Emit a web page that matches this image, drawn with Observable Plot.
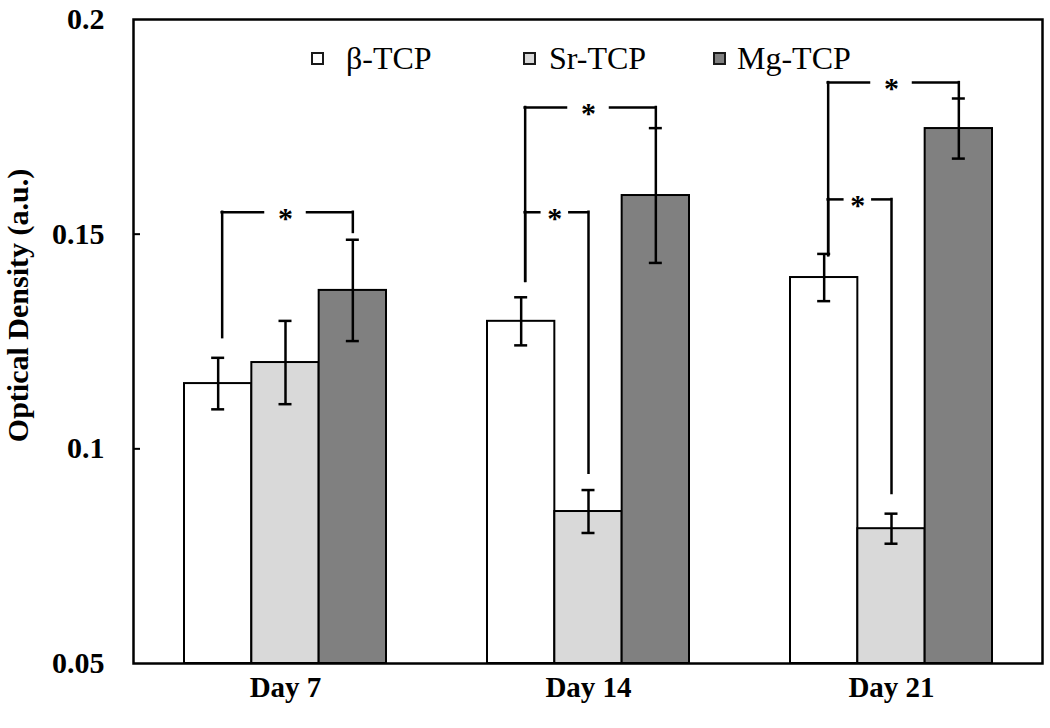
<!DOCTYPE html>
<html>
<head>
<meta charset="utf-8">
<script src="https://cdn.jsdelivr.net/npm/d3@7"></script>
<script src="https://cdn.jsdelivr.net/npm/@observablehq/plot@0.6"></script>
<style>
  body { margin: 0; background: #fff; }
  #wrap { position: relative; width: 1050px; height: 728px; font-family: "Liberation Serif", "Times New Roman", serif; }
  .sw { position: absolute; width: 9px; height: 9px; border: 2px solid #1a1a1a; }
  .lt { position: absolute; font-size: 32px; line-height: 32px; color: #000; white-space: nowrap; }
</style>
</head>
<body>
<div id="wrap"></div>
<script>
// ---- data ----
const days = ["Day 7", "Day 14", "Day 21"];
const series = ["β-TCP", "Sr-TCP", "Mg-TCP"];
const betaMean = [0.1152, 0.1297, 0.1399];
const betaErr  = [0.0060, 0.0056, 0.0055];
const srMean   = [0.1201, 0.0854, 0.0814];
const srErr    = [0.0097, 0.0050, 0.0035];
const mgMean   = [0.1369, 0.1590, 0.1746];
const mgErr    = [0.0118, 0.0157, 0.0070];
const fills    = ["#ffffff", "#d9d9d9", "#808080"];
const yTicks      = [0.05, 0.1, 0.15, 0.2];
const yTickLabels = ["0.05", "0.1", "0.15", "0.2"];
const yBase = 0.05;
// significance brackets: day, from series index, to series index, bar level, left foot, right foot
const bracketDay   = ["Day 7", "Day 14", "Day 14", "Day 21", "Day 21"];
const bracketFrom  = [0, 0, 0, 0, 0];
const bracketTo    = [2, 2, 1, 2, 1];
const bracketLevel = [0.1551, 0.1795, 0.1551, 0.1853, 0.1581];
const bracketYFrom = [0.1259, 0.1390, 0.1390, 0.1450, 0.1450];
const bracketYTo   = [0.1504, 0.1751, 0.0943, 0.1816, 0.0896];

const means = [betaMean, srMean, mgMean];
const errs = [betaErr, srErr, mgErr];
const rowsBySeries = series.map((s, i) => days.map((d, j) => ({
  day: d, series: s, value: means[i][j], lo: means[i][j] - errs[i][j], hi: means[i][j] + errs[i][j], base: yBase
})));
const brackets = bracketDay.map((d, k) => ({
  day: d, from: bracketFrom[k], to: bracketTo[k], level: bracketLevel[k], yFrom: bracketYFrom[k], yTo: bracketYTo[k]
}));

// ---- layout ----
const W = 1050, H = 728, mL = 133, mR = 8, mT = 19, mB = 65;
const innerW = W - mL - mR;
const step = innerW / 3, bw = step * 2 / 3, sub = bw / 3;
const off = i => sub * i + sub / 2;   // series centre offset from band start
const capHalf = 6.5;
const font = "Liberation Serif, Times New Roman, serif";

const marks = [];
rowsBySeries.forEach((rows, i) => {
  marks.push(Plot.barY(rows, {
    x: "day", y1: "base", y2: "value", fill: fills[i], stroke: "#000", strokeWidth: 2,
    insetLeft: i * sub, insetRight: (2 - i) * sub
  }));
});
rowsBySeries.forEach((rows, i) => {
  marks.push(Plot.ruleX(rows, {x: "day", y1: "lo", y2: "hi", dx: off(i) - bw / 2, stroke: "#000", strokeWidth: 2.5}));
  for (const key of ["lo", "hi"]) {
    marks.push(Plot.tickY(rows, {x: "day", y: key, stroke: "#000", strokeWidth: 2.5,
      insetLeft: off(i) - capHalf, insetRight: bw - off(i) - capHalf}));
  }
});
for (const b of brackets) {
  const x0 = off(b.from) + 4, x1 = off(b.to), mid = (off(b.from) + off(b.to)) / 2;
  const gh = b.to - b.from > 1 ? 22 : 15;
  const st = {stroke: "#000", strokeWidth: 2.5, strokeLinecap: "square"};
  marks.push(Plot.ruleX([b], {x: "day", y1: "yFrom", y2: "level", dx: x0 - bw / 2, ...st}));
  marks.push(Plot.ruleX([b], {x: "day", y1: "yTo", y2: "level", dx: x1 - bw / 2, ...st}));
  marks.push(Plot.ruleY([b], {x1: "day", x2: "day", y: "level", insetLeft: x0, insetRight: bw - (mid - gh), ...st}));
  marks.push(Plot.ruleY([b], {x1: "day", x2: "day", y: "level", insetLeft: mid + gh, insetRight: bw - x1, ...st}));
  marks.push(Plot.text([b], {x: "day", y: "level", text: () => "*", dx: mid - bw / 2, dy: 6,
    fontSize: 30, fontWeight: "bold", fontFamily: font, fill: "#000"}));
}
marks.push(Plot.ruleY([0.1, 0.15], {insetRight: innerW - 7, stroke: "#000", strokeWidth: 2}));
marks.push(Plot.frame({stroke: "#000", strokeWidth: 2.5}));
marks.push(Plot.axisY({ticks: yTicks, tickFormat: (d) => yTickLabels[yTicks.indexOf(d)], tickSize: 0, tickPadding: 29,
  fontSize: 30, fontWeight: "bold", fontFamily: font, label: null}));
marks.push(Plot.axisX({tickSize: 0, tickPadding: 13, fontSize: 29, fontWeight: "bold", fontFamily: font, label: null}));
marks.push(Plot.text(["Optical Density (a.u.)"], {frameAnchor: "left", textAnchor: "middle", dx: -115, dy: -36, rotate: -90,
  fontSize: 30, fontWeight: "bold", fontFamily: font, fill: "#000"}));

const chart = Plot.plot({
  width: W, height: H,
  marginLeft: mL, marginRight: mR, marginTop: mT, marginBottom: mB,
  style: {fontFamily: font, color: "#000", background: "#fff"},
  x: {domain: days, paddingInner: 1 / 3, paddingOuter: 1 / 6, axis: null},
  y: {domain: [yBase, 0.2], axis: null},
  marks
});
const wrap = document.getElementById("wrap");
wrap.appendChild(chart);

// legend (inside plot area, top)
const legX = [311, 523, 713];
const legTextX = [346, 549, 737];
series.forEach((s, i) => {
  const sw = document.createElement("div");
  sw.className = "sw";
  sw.style.left = legX[i] + "px";
  sw.style.top = "52px";
  sw.style.background = fills[i];
  wrap.appendChild(sw);
  const t = document.createElement("div");
  t.className = "lt";
  t.style.left = legTextX[i] + "px";
  t.style.top = "42px";
  t.textContent = s;
  wrap.appendChild(t);
});
</script>
</body>
</html>
